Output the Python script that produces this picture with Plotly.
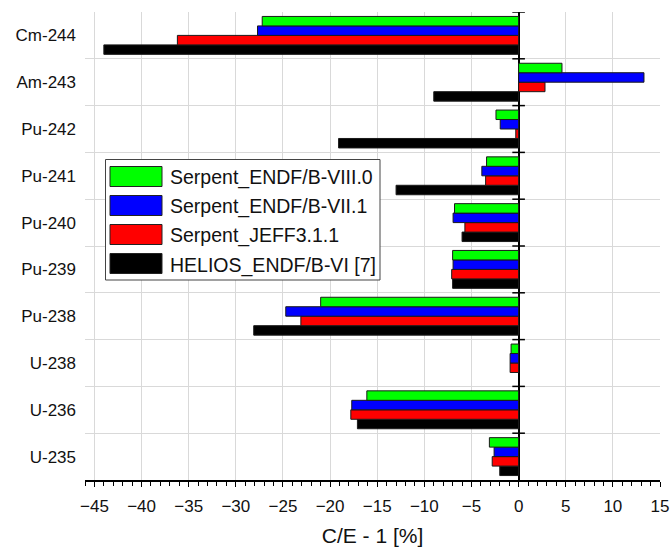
import plotly.graph_objects as go

# Nuclides, bottom to top on the category axis
nuclides = ["U-235", "U-236", "U-238", "Pu-238", "Pu-239",
            "Pu-240", "Pu-241", "Pu-242", "Am-243", "Cm-244"]

# C/E - 1 [%] per library, same order as nuclides
serpent_endfb80 = [-3.1, -16.1, -0.8, -21.0, -7.0, -6.8, -3.4, -2.4, 4.6, -27.2]
serpent_endfb71 = [-2.6, -17.7, -0.9, -24.7, -6.95, -6.95, -3.9, -1.95, 13.3, -27.7]
serpent_jeff311 = [-2.8, -17.8, -0.9, -23.1, -7.1, -5.7, -3.5, -0.3, 2.8, -36.2]
helios_endfb6 = [-2.0, -17.1, None, -28.1, -7.0, -6.0, -13.0, -19.1, -9.0, -44.0]

series_names = ["Serpent_ENDF/B-VIII.0", "Serpent_ENDF/B-VII.1",
                "Serpent_JEFF3.1.1", "HELIOS_ENDF/B-VI [7]"]
series_values = [serpent_endfb80, serpent_endfb71, serpent_jeff311, helios_endfb6]
series_colors = ["#00ff00", "#0000ff", "#ff0000", "#000000"]

FONT = "Liberation Sans, Arial, sans-serif"

fig = go.Figure()

# Horizontal grouped bars: the first trace sits lowest in each group,
# so add them in reverse to get the first series on top.
for name, vals, col in reversed(list(zip(series_names, series_values, series_colors))):
    fig.add_trace(go.Bar(
        y=nuclides, x=vals, name=name, orientation="h",
        marker=dict(color=col, line=dict(color="#1a1a1a", width=1)),
        showlegend=False,
    ))

# Crossing tick marks on the zero line at the category boundaries
boundaries = [k + 0.5 for k in range(len(nuclides))]
fig.add_trace(go.Scatter(
    x=[0] * len(boundaries), y=boundaries, yaxis="y2", mode="markers",
    marker=dict(symbol="line-ew-open", size=9, color="black",
                line=dict(color="black", width=1.5)),
    showlegend=False, hoverinfo="skip",
))

# Plot-area pixel frame used to place the hand-drawn legend
L, R, T, B = 85, 660, 12, 480


def px(xp):
    return (xp - L) / (R - L)


def py(yp):
    return (B - yp) / (B - T)


shapes = [dict(type="rect", xref="paper", yref="paper",
               x0=px(105.5), x1=px(380), y0=py(280), y1=py(159.5),
               fillcolor="white", line=dict(color="#444444", width=1))]
annotations = []
for i, (name, col) in enumerate(zip(series_names, series_colors)):
    top = 166.5 + 29 * i
    shapes.append(dict(type="rect", xref="paper", yref="paper",
                       x0=px(110), x1=px(162), y0=py(top + 20), y1=py(top),
                       fillcolor=col, line=dict(color="#222222", width=1)))
    annotations.append(dict(xref="paper", yref="paper", x=px(168), y=py(top + 11.5),
                            text=name, showarrow=False, xanchor="left", yanchor="middle",
                            font=dict(family=FONT, size=19.5, color="#111111")))

fig.update_layout(
    width=670, height=547,
    margin=dict(l=L, r=670 - R, t=T, b=547 - B),
    paper_bgcolor="white", plot_bgcolor="white",
    barmode="group", bargap=0.19, bargroupgap=0,
    showlegend=False,
    shapes=shapes, annotations=annotations,
    xaxis=dict(
        range=[-46, 15], dtick=5, tick0=0, automargin=False,
        showgrid=True, gridcolor="#d9d9d9", gridwidth=1,
        zeroline=True, zerolinecolor="black", zerolinewidth=1.5,
        showline=True, linecolor="black", linewidth=1.5,
        ticks="outside", ticklen=5, tickwidth=1.2, tickcolor="black",
        minor=dict(dtick=1, tick0=0, ticks="outside", ticklen=4,
                   tickwidth=1, tickcolor="black", showgrid=False),
        tickfont=dict(family=FONT, size=17, color="#111111"),
        ticklabelstandoff=5,
        title=dict(text="C/E - 1 [%]", standoff=21,
                   font=dict(family=FONT, size=21, color="#111111")),
    ),
    yaxis=dict(
        type="category", categoryorder="array", categoryarray=nuclides,
        range=[-0.5, len(nuclides) - 0.5], automargin=False,
        tickson="boundaries", showgrid=True, gridcolor="#d9d9d9", gridwidth=1,
        ticks="", showline=False, zeroline=False,
        tickfont=dict(family=FONT, size=17, color="#111111"),
        ticklabelstandoff=8,
    ),
    yaxis2=dict(
        overlaying="y", range=[-0.5, len(nuclides) - 0.5], visible=False,
    ),
)

fig.write_html("out.html")
